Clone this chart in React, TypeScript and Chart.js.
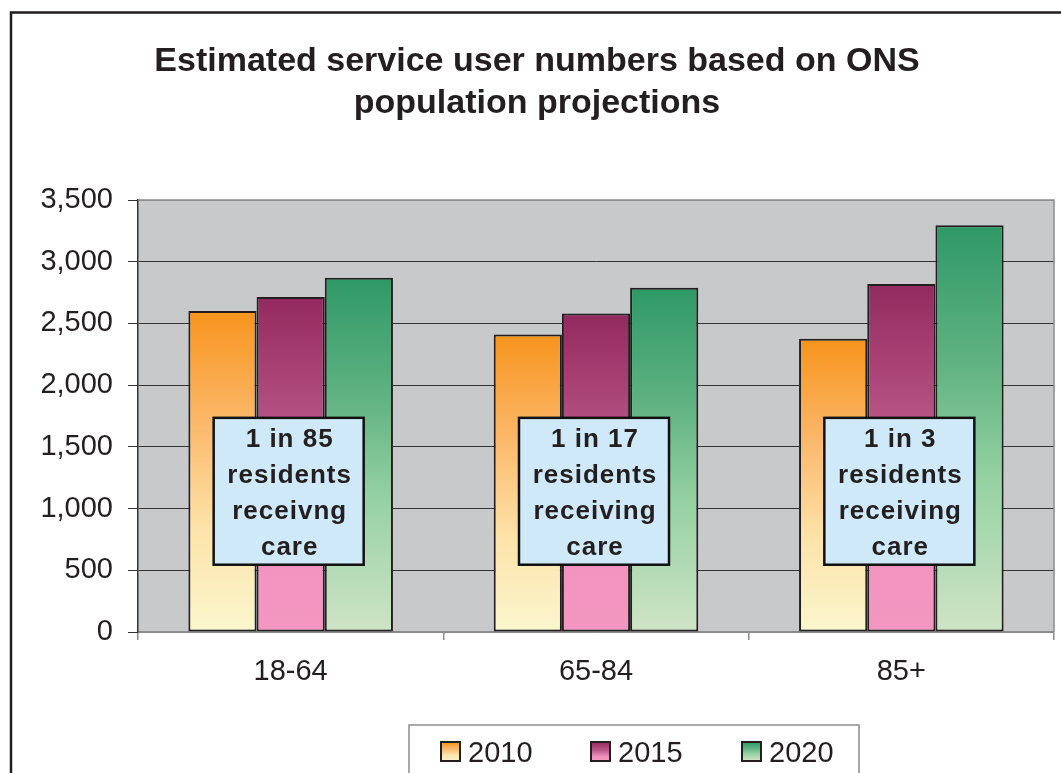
import React, { useEffect, useRef } from "react";
import { Chart, registerables } from "chart.js";

Chart.register(...registerables);

const categories = ["18-64", "65-84", "85+"];
const seriesLabels = ["2010", "2015", "2020"];
const values2010 = [2600, 2410, 2375];
const values2015 = [2715, 2580, 2820];
const values2020 = [2870, 2790, 3295];
const yMax = 3500;
const yStep = 500;
const titleLines = ["Estimated service user numbers based on ONS", "population projections"];
const annotationTexts = [
  ["1 in 85", "residents", "receivng", "care"],
  ["1 in 17", "residents", "receiving", "care"],
  ["1 in 3", "residents", "receiving", "care"],
];
const annotationTopValue = 1735;
const annotationBottomValue = 545;

const FONT = '"Liberation Sans", Arial, Helvetica, sans-serif';
const INK = "#231f20";

const gradientStops: [number, string][][] = [
  [[0, "#f7941d"], [0.35, "#fbb86a"], [0.68, "#fde3aa"], [1, "#faf6cd"]],
  [[0, "#932a5f"], [0.45, "#bd5a8b"], [0.78, "#f294bf"], [1, "#f396c0"]],
  [[0, "#2e9966"], [0.35, "#62b383"], [0.62, "#95d1a2"], [1, "#cfe4c6"]],
];
const solidColors = ["#f9b060", "#c0608f", "#6dbb8a"];

function makeGradient(ctx: CanvasRenderingContext2D, top: number, bottom: number, stops: [number, string][]) {
  const g = ctx.createLinearGradient(0, top, 0, bottom);
  stops.forEach(([o, c]) => g.addColorStop(o, c));
  return g;
}

const decorPlugin = {
  id: "decor",
  beforeDraw(chart: any) {
    const { ctx, chartArea: a, width, height } = chart;
    ctx.save();
    ctx.fillStyle = "#ffffff";
    ctx.fillRect(0, 0, width, height);
    ctx.fillStyle = "#c8c9cb";
    ctx.fillRect(a.left, a.top, a.right - a.left, a.bottom - a.top);
    ctx.restore();
  },
  afterDatasetsDraw(chart: any) {
    const { ctx, chartArea: a, scales } = chart;
    ctx.save();
    ctx.strokeStyle = "#8c8c8c";
    ctx.lineWidth = 1.5;
    ctx.beginPath();
    ctx.moveTo(a.left, a.top);
    ctx.lineTo(a.right, a.top);
    ctx.lineTo(a.right, a.bottom);
    ctx.stroke();

    const yTop = scales.y.getPixelForValue(annotationTopValue);
    const yBot = scales.y.getPixelForValue(annotationBottomValue);
    const boxW = 150;
    annotationTexts.forEach((lines, i) => {
      const cx = scales.x.getPixelForValue(i) - 2;
      ctx.fillStyle = "#cfe9f9";
      ctx.fillRect(cx - boxW / 2, yTop, boxW, yBot - yTop);
      ctx.strokeStyle = "#111111";
      ctx.lineWidth = 2.5;
      ctx.strokeRect(cx - boxW / 2, yTop, boxW, yBot - yTop);
      ctx.fillStyle = INK;
      ctx.font = `bold 26px ${FONT}`;
      (ctx as any).letterSpacing = "1px";
      ctx.textAlign = "center";
      ctx.textBaseline = "alphabetic";
      lines.forEach((ln, k) => {
        ctx.fillText(ln, cx + 1, yTop + 29 + k * 36);
      });
      (ctx as any).letterSpacing = "0px";
    });
    ctx.restore();
  },
  afterDraw(chart: any) {
    const { ctx, width, height } = chart;
    ctx.save();
    ctx.strokeStyle = INK;
    ctx.lineWidth = 2.5;
    ctx.beginPath();
    ctx.moveTo(11, height + 5);
    ctx.lineTo(11, 12.5);
    ctx.lineTo(width + 5, 12.5);
    ctx.stroke();

    ctx.fillStyle = INK;
    ctx.font = `bold 34px ${FONT}`;
    ctx.textAlign = "center";
    ctx.textBaseline = "alphabetic";
    titleLines.forEach((t, i) => ctx.fillText(t, 537, 71 + i * 42));

    ctx.strokeStyle = "#8c8c8c";
    ctx.lineWidth = 1.5;
    ctx.beginPath();
    ctx.moveTo(409, height + 5);
    ctx.lineTo(409, 725);
    ctx.lineTo(859, 725);
    ctx.lineTo(859, height + 5);
    ctx.stroke();
    const sqX = [441, 591, 742];
    ctx.font = `29px ${FONT}`;
    ctx.textAlign = "left";
    seriesLabels.forEach((lab, i) => {
      const x = sqX[i];
      const y = 742;
      ctx.fillStyle = makeGradient(ctx, y, y + 19, gradientStops[i]);
      ctx.fillRect(x, y, 19, 19);
      ctx.strokeStyle = INK;
      ctx.lineWidth = 2;
      ctx.strokeRect(x, y, 19, 19);
      ctx.fillStyle = INK;
      ctx.fillText(lab, x + 27, 762);
    });
    ctx.restore();
  },
};

export default function App() {
  const ref = useRef<HTMLCanvasElement | null>(null);
  useEffect(() => {
    if (!ref.current) return;
    const seriesValues = [values2010, values2015, values2020];
    const chart = new Chart(ref.current, {
      type: "bar",
      data: {
        labels: categories,
        datasets: seriesLabels.map((label, i) => ({
          label,
          data: seriesValues[i],
          backgroundColor: (c: any) => {
            const ch = c.chart;
            if (!ch.chartArea || c.type !== "data" || !ch.scales.y) return solidColors[i];
            const top = ch.scales.y.getPixelForValue(c.parsed.y);
            const bottom = ch.scales.y.getPixelForValue(0);
            return makeGradient(ch.ctx, top, bottom, gradientStops[i]);
          },
          borderColor: INK,
          borderWidth: 2,
          borderSkipped: false,
          categoryPercentage: 0.67,
          barPercentage: 1.0,
        })),
      },
      options: {
        responsive: false,
        animation: false,
        events: [],
        layout: { padding: { top: 200, right: 7, bottom: 81, left: 0 } },
        plugins: {
          legend: { display: false },
          title: { display: false },
          tooltip: { enabled: false },
        },
        scales: {
          x: {
            afterFit: (s: any) => {
              s.height = 60;
            },
            grid: {
              offset: true,
              drawOnChartArea: false,
              drawTicks: true,
              tickLength: 8,
              color: "#8c8c8c",
              lineWidth: 1.5,
            },
            border: { display: true, color: "#8c8c8c", width: 1.5 },
            ticks: {
              color: INK,
              font: { family: FONT, size: 29 },
              padding: 15,
            },
          },
          y: {
            min: 0,
            max: yMax,
            afterFit: (s: any) => {
              s.width = 138;
            },
            grid: {
              color: (c: any) => (c.tick && (c.tick.value === yMax || c.tick.value === 0) ? "#8c8c8c" : "#333333"),
              tickColor: "#333333",
              lineWidth: 1,
              tickLength: 10,
            },
            border: { display: true, color: "#333333", width: 1.5 },
            ticks: {
              stepSize: yStep,
              color: INK,
              font: { family: FONT, size: 29 },
              padding: 15,
              callback: (v: any) => Number(v).toLocaleString("en-US"),
            },
          },
        },
      },
      plugins: [decorPlugin],
    });
    return () => chart.destroy();
  }, []);
  return (
    <div style={{ position: "fixed", left: 0, top: 0, width: 1061, height: 773, overflow: "hidden", background: "#fff" }}>
      <canvas ref={ref} width={1061} height={773} style={{ display: "block" }} />
    </div>
  );
}
